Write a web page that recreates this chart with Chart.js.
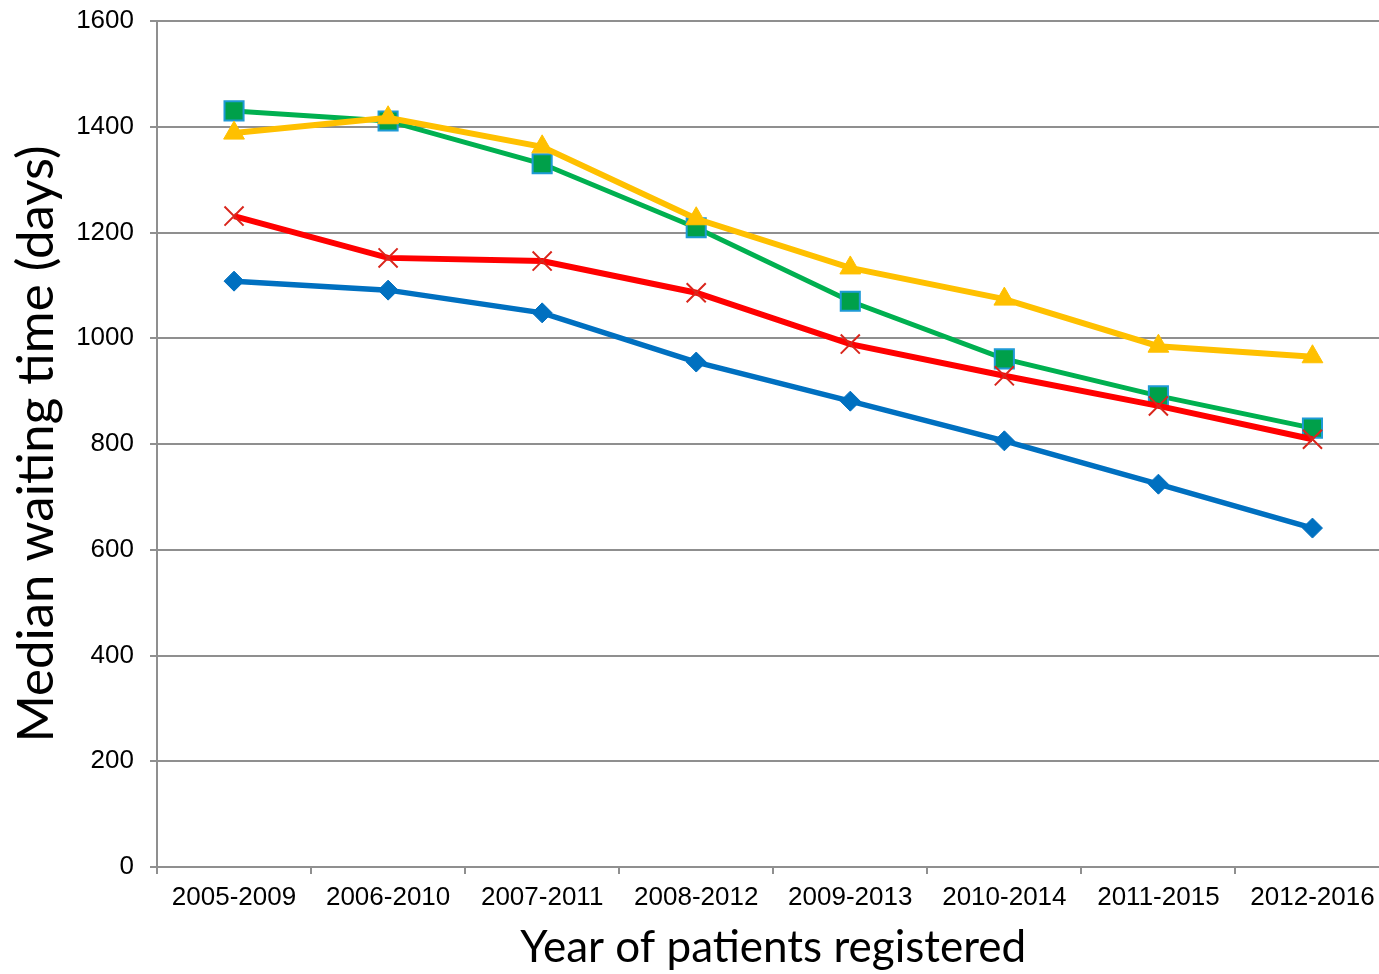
<!DOCTYPE html>
<html>
<head>
<meta charset="utf-8">
<script src="https://cdn.jsdelivr.net/npm/chart.js@4/dist/chart.umd.min.js"></script>
<style>
  html, body { margin: 0; padding: 0; background: #fff; overflow: hidden; }
  #wrap { position: absolute; left: 0; top: 0; width: 1405px; height: 974px; }
</style>
</head>
<body>
<div id="wrap"><canvas id="waitChart" width="1405" height="974"></canvas></div>
<script>
const periods = ['2005-2009', '2006-2010', '2007-2011', '2008-2012', '2009-2013', '2010-2014', '2011-2015', '2012-2016'];

// median waiting time (days)
const blueSeries = [1108, 1091, 1048, 955, 881, 806, 724, 641];
const redSeries = [1231, 1152, 1146, 1086, 989, 929, 872, 809];
const greenSeries = [1430, 1411, 1330, 1209, 1070, 961, 891, 830];
const yellowSeries = [1388, 1417, 1362, 1226, 1133, 1074, 985, 965];

const yTicks = [0, 200, 400, 600, 800, 1000, 1200, 1400, 1600];

const gridGray = '#8f8f8f';
const tickFont = { family: '"Liberation Sans", Arial, sans-serif', size: 26 };

const ctx = document.getElementById('waitChart').getContext('2d');

const chartConfig = {
    type: 'line',
    data: {
        labels: periods,
        datasets: [
            {
                label: 'blue',
                data: blueSeries,
                borderColor: '#0070C0',
                borderWidth: 5.5,
                pointStyle: 'rectRot',
                pointRadius: 10,
                pointBackgroundColor: '#0070C0',
                pointBorderColor: '#0070C0',
                pointBorderWidth: 1,
                order: 4
            },
            {
                label: 'red',
                data: redSeries,
                borderColor: '#FF0000',
                borderWidth: 6,
                pointStyle: 'crossRot',
                pointRadius: 13.5,
                pointBorderColor: '#D9261C',
                pointBorderWidth: 2,
                order: 2
            },
            {
                label: 'green',
                data: greenSeries,
                borderColor: '#00B050',
                borderWidth: 5,
                pointStyle: 'rect',
                pointRadius: 13.5,
                pointBackgroundColor: '#00A04A',
                pointBorderColor: '#1E9AD6',
                pointBorderWidth: 2,
                order: 3
            },
            {
                label: 'yellow',
                data: yellowSeries,
                borderColor: '#FFC000',
                borderWidth: 6,
                pointStyle: 'triangle',
                pointRadius: 12,
                pointBackgroundColor: '#FFC000',
                pointBorderColor: '#FFC000',
                pointBorderWidth: 1,
                order: 1
            }
        ]
    },
    options: {
        responsive: false,
        animation: false,
        devicePixelRatio: 1,
        tension: 0,
        layout: { padding: { top: 21, left: 0, right: 0, bottom: 0 } },
        scales: {
            x: {
                offset: true,
                grid: {
                    offset: true,
                    drawOnChartArea: false,
                    drawTicks: true,
                    tickLength: 7,
                    color: gridGray,
                    lineWidth: 2
                },
                border: { color: gridGray, width: 2 },
                ticks: { color: '#000', font: tickFont, padding: 8, maxRotation: 0, autoSkip: false },
                title: {
                    display: true,
                    text: 'Year of patients registered',
                    color: '#000',
                    font: { family: 'Lato, "Open Sans", sans-serif', size: 44, lineHeight: 1 },
                    padding: { top: 0, bottom: 4 }
                },
                afterFit: (scale) => {
                    scale.height = 107;
                    scale.paddingLeft = 0;
                    scale.paddingRight = 0;
                }
            },
            y: {
                min: 0,
                max: 1600,
                afterBuildTicks: (scale) => { scale.ticks = yTicks.map(v => ({ value: v })); },
                grid: {
                    color: gridGray,
                    lineWidth: 2,
                    tickLength: 7
                },
                border: { color: gridGray, width: 2 },
                ticks: { color: '#000', font: tickFont, padding: 16, callback: (v) => String(v) },
                title: {
                    display: true,
                    text: 'Median waiting time (days)',
                    color: '#000',
                    font: { family: 'Lato, "Open Sans", sans-serif', size: 51, lineHeight: 1 },
                    padding: { top: 11, bottom: 0 }
                },
                afterFit: (scale) => {
                    scale.width = 157;
                    scale.paddingTop = 0;
                    scale.paddingBottom = 0;
                }
            }
        },
        plugins: {
            legend: { display: false },
            tooltip: { enabled: false }
        }
    }
};

const waitChart = new Chart(ctx, chartConfig);
</script>
</body>
</html>
